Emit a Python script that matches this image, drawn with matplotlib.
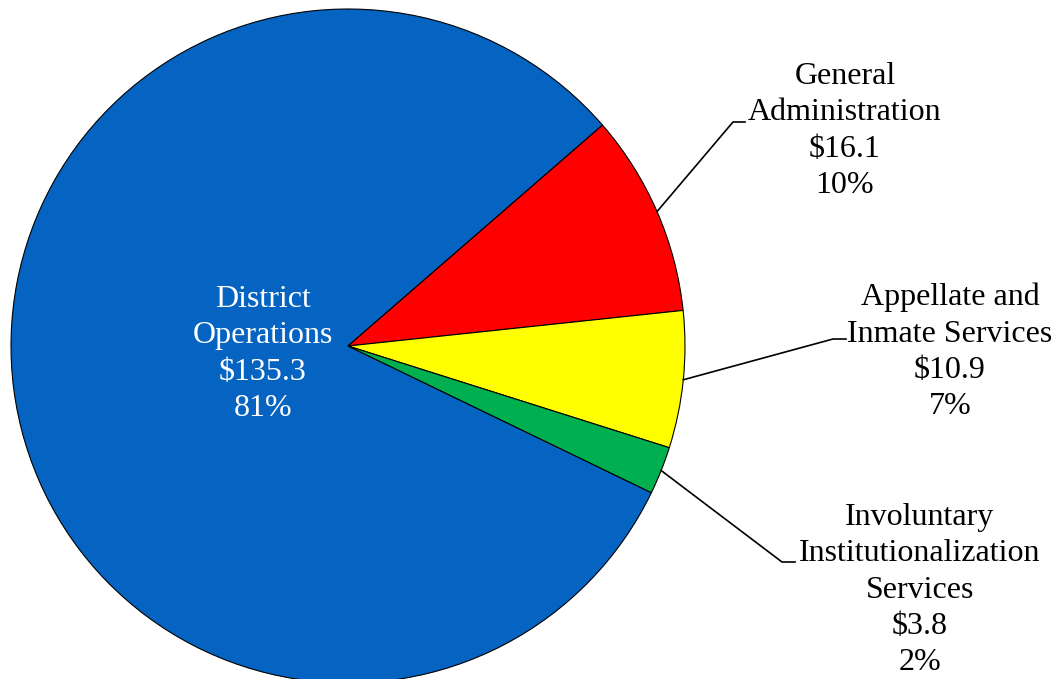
import matplotlib.pyplot as plt
import numpy as np

# Budget by program, millions of dollars
programs = ['District\nOperations', 'General\nAdministration',
            'Appellate and\nInmate Services',
            'Involuntary\nInstitutionalization\nServices']
amounts = [135.3, 16.1, 10.9, 3.8]
colors = ['#0563C1', '#FF0000', '#FFFF00', '#00B050']

W, H = 1057, 679
cx, cy, r = 348, H - 346, 337

plt.rcParams['font.family'] = ['Liberation Serif', 'DejaVu Serif']

fig = plt.figure(figsize=(W / 100, H / 100), dpi=100)
ax = fig.add_axes([0, 0, 1, 1])
ax.set_xlim(0, W)
ax.set_ylim(0, H)
ax.set_aspect('equal')
ax.axis('off')

wedges, _ = ax.pie(amounts, colors=colors, center=(cx, cy), radius=r,
                   startangle=-25.8, counterclock=False,
                   wedgeprops=dict(edgecolor='black', linewidth=0.8))
ax.set_xlim(0, W)
ax.set_ylim(0, H)

total = sum(amounts)
labels = [f'{p}\n${a:.1f}\n{round(a / total * 100):.0f}%'
          for p, a in zip(programs, amounts)]

FS = 23
LS = 1.33

# District label sits inside the big slice
ax.text(263, H - 354, labels[0], color='white', fontsize=FS,
        ha='center', va='center', linespacing=LS)

# outside labels: (text centre, elbow point, elbow end) in pixels
outside = [((845, 131), (733, 122), (745, 122)),
           ((950, 352), (833, 339), (846, 339)),
           ((920, 590), (782, 562), (795, 562))]

for w, lab, (txt, elb, end) in zip(wedges[1:], labels[1:], outside):
    mid = np.deg2rad((w.theta1 + w.theta2) / 2)
    x0, y0 = cx + r * np.cos(mid), cy + r * np.sin(mid)
    ax.plot([x0, elb[0], end[0]], [y0, H - elb[1], H - end[1]],
            color='black', linewidth=1.2)
    ax.text(txt[0], H - txt[1], lab, fontsize=FS, ha='center', va='center',
            linespacing=LS)

fig.savefig('out.png', dpi=100)
